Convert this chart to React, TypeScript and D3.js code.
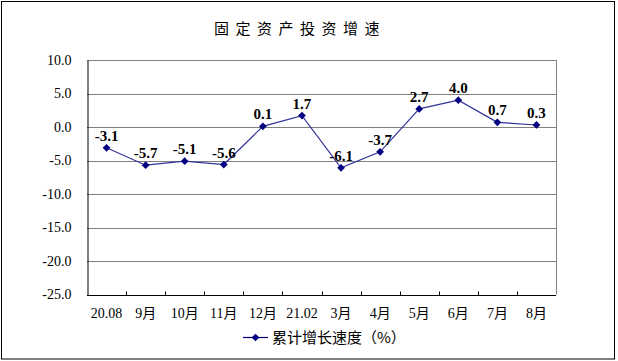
import React, { useRef, useEffect } from "react";
import * as d3 from "d3";

const categories = ["20.08", "9月", "10月", "11月", "12月", "21.02", "3月", "4月", "5月", "6月", "7月", "8月"];
const growth = [-3.1, -5.7, -5.1, -5.6, 0.1, 1.7, -6.1, -3.7, 2.7, 4.0, 0.7, 0.3];
const yTicks = [10, 5, 0, -5, -10, -15, -20, -25];
const title = "固定资产投资增速";
const seriesName = "累计增长速度（%）";

const W = 618;
const H = 361;
const serif = "'Times New Roman', 'Liberation Serif', 'Noto Sans CJK SC', serif";
const cjk = "'Noto Sans CJK SC', sans-serif";

export default function App() {
  const svgRef = useRef<SVGSVGElement>(null);

  useEffect(() => {
    const svg = d3.select(svgRef.current);
    svg.selectAll("*").remove();

    const left = 87, right = 556, top = 60, bottom = 294.5;

    const x = d3.scaleBand().domain(categories).range([left, right]);
    const y = d3.scaleLinear().domain([-25, 10]).range([bottom, top]);

    // outer frame
    svg.append("rect")
      .attr("x", 1.5).attr("y", 1.5)
      .attr("width", 613).attr("height", 357.5)
      .attr("fill", "#fff").attr("stroke", "#000");

    svg.append("text")
      .attr("x", 300).attr("y", 34)
      .attr("text-anchor", "middle")
      .style("font-family", cjk).style("font-size", "15px")
      .style("letter-spacing", "6.5px")
      .text(title);

    // grid lines
    svg.append("g").selectAll("line")
      .data(yTicks)
      .join("line")
      .attr("x1", left).attr("x2", right)
      .attr("y1", (d) => Math.round(y(d)) + 0.5).attr("y2", (d) => Math.round(y(d)) + 0.5)
      .attr("stroke", "#808080");
    svg.append("line")
      .attr("x1", right + 0.5).attr("x2", right + 0.5)
      .attr("y1", top).attr("y2", bottom)
      .attr("stroke", "#808080");

    // axes
    const yAxis = svg.append("g").attr("transform", `translate(${left + 0.5},0)`)
      .call(d3.axisLeft(y).tickValues(yTicks).tickSize(0).tickPadding(16).tickFormat((d) => (+d).toFixed(1)));
    yAxis.select(".domain").attr("stroke", "#000");
    yAxis.selectAll("text").style("font-family", serif).style("font-size", "14px").attr("fill", "#000");

    const xAxis = svg.append("g").attr("transform", `translate(0,${Math.round(bottom) + 0.5})`);
    xAxis.append("line").attr("x1", left).attr("x2", right).attr("stroke", "#000");
    xAxis.selectAll("line.tk")
      .data(categories.slice(1))
      .join("line")
      .attr("class", "tk")
      .attr("x1", (d) => Math.round(x(d)!) + 0.5).attr("x2", (d) => Math.round(x(d)!) + 0.5)
      .attr("y1", 0).attr("y2", -4)
      .attr("stroke", "#000");
    xAxis.selectAll("text")
      .data(categories)
      .join("text")
      .attr("x", (d) => x(d)! + x.bandwidth() / 2)
      .attr("y", 22)
      .attr("text-anchor", "middle")
      .style("font-family", serif).style("font-size", "14px")
      .text((d) => d);

    const cx = (i: number) => x(categories[i])! + x.bandwidth() / 2;

    const line = d3.line<number>().x((_, i) => cx(i)).y((d) => y(d));
    svg.append("path")
      .datum(growth)
      .attr("d", line)
      .attr("fill", "none")
      .attr("stroke", "#333399")
      .attr("stroke-width", 1.2);

    const marker = d3.symbol().type(d3.symbolSquare).size(30);
    svg.append("g").selectAll("path")
      .data(growth)
      .join("path")
      .attr("d", marker)
      .attr("transform", (d, i) => `translate(${cx(i)},${y(d)}) rotate(45)`)
      .attr("fill", "#000080");

    svg.append("g").selectAll("text")
      .data(growth)
      .join("text")
      .attr("x", (d, i) => cx(i))
      .attr("y", (d) => y(d) - 7)
      .attr("text-anchor", "middle")
      .style("font-family", serif).style("font-size", "15px").style("font-weight", "bold")
      .text((d) => d.toFixed(1));

    // legend
    const lg = svg.append("g").attr("transform", "translate(243,337)");
    lg.append("line").attr("x1", 0).attr("x2", 25).attr("y1", 0.5).attr("y2", 0.5)
      .attr("stroke", "#000080").attr("stroke-width", 1.2);
    lg.append("path").attr("d", marker).attr("transform", "translate(12.5,0.5) rotate(45)").attr("fill", "#000080");
    lg.append("text")
      .attr("x", 29).attr("y", 5.5)
      .style("font-family", cjk).style("font-size", "15px")
      .text(seriesName);
  }, []);

  return (
    <svg ref={svgRef} width={W} height={H} style={{ position: "absolute", left: 0, top: 0, display: "block" }} />
  );
}
